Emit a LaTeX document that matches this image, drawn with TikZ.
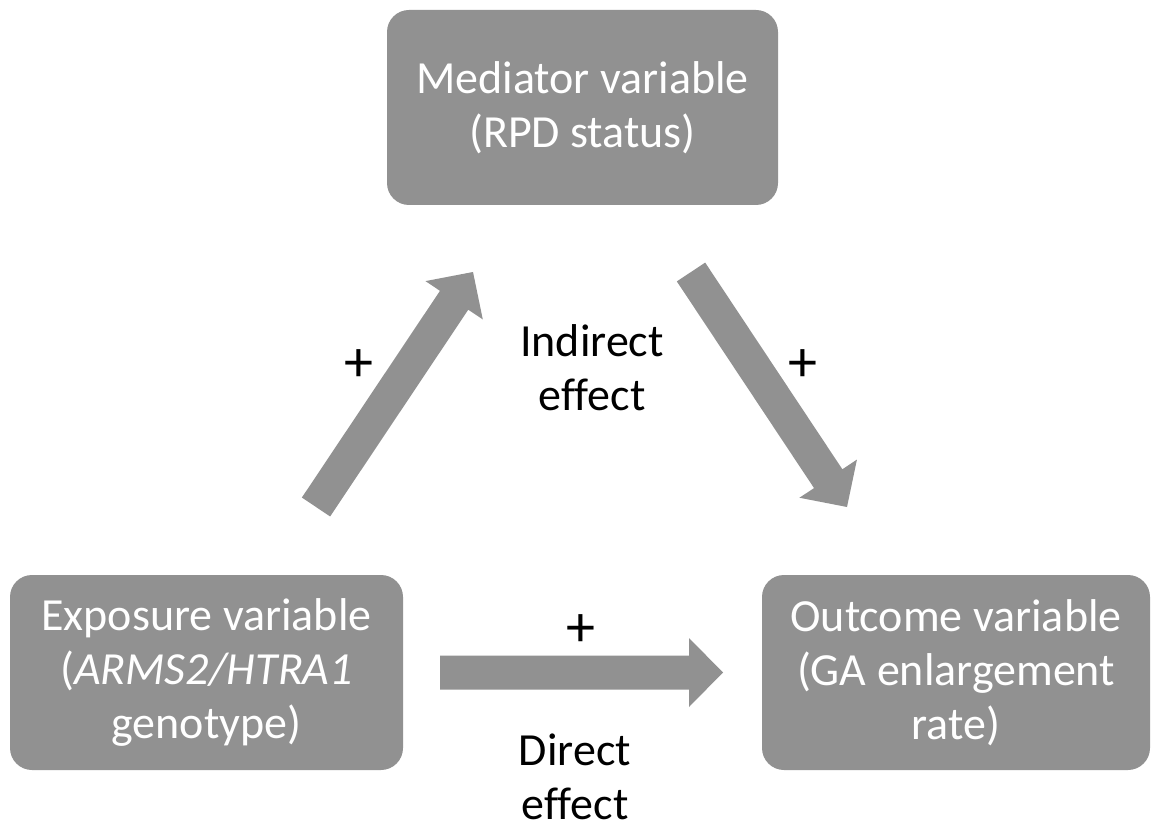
\documentclass[tikz,border=0pt]{standalone}
\usepackage{fontspec}
\setmainfont{Carlito}[Ligatures=CommonOff]
\usetikzlibrary{calc}
\definecolor{boxgray}{RGB}{145,145,145}
\definecolor{arrowgray}{RGB}{145,145,145}
\tikzset{
  varbox/.style={fill=boxgray, rounded corners=22pt, text=white, align=center,
    font=\fontsize{46}{54}\selectfont, inner sep=0pt},
  lbl/.style={text=black, align=center, font=\fontsize{46}{54}\selectfont, inner sep=0pt},
  plus/.style={text=black, font=\fontsize{58}{60}\selectfont, inner sep=0pt}
}
\newcommand{\blockarrow}[2]{%
  \coordinate (tmpC) at ($(#2)!34pt!(#1)$);
  \fill[arrowgray] ($(#1)!17pt!90:(#2)$) -- ($(tmpC)!17pt!-90:(#1)$) -- ($(tmpC)!34.5pt!-90:(#1)$)
    -- (#2) -- ($(tmpC)!34.5pt!90:(#1)$) -- ($(tmpC)!17pt!90:(#1)$) -- ($(#1)!17pt!-90:(#2)$) -- cycle;
}
\begin{document}
\begin{tikzpicture}[x=1pt,y=-1pt]
\useasboundingbox (0,0) rectangle (1152,829);
% boxes
\node[varbox, minimum width=391pt, minimum height=195pt] (med) at (582.5,107.5) {Mediator variable\\(RPD status)};
\node[varbox, minimum width=393pt, minimum height=195pt] (exp) at (206.5,672.5) {Exposure variable\\(\textit{ARMS2/HTRA1}\\genotype)};
\node[varbox, minimum width=388pt, minimum height=195pt] (out) at (956,672.5) {Outcome variable\\(GA enlargement\\rate)};
% arrow ends
\coordinate (a1s) at (316,507);
\coordinate (a1e) at (473,272);
\coordinate (a2s) at (691,272);
\coordinate (a2e) at (847,507);
\coordinate (a3s) at (440,672.5);
\coordinate (a3e) at (723,672.5);
\blockarrow{a1s}{a1e}
\blockarrow{a2s}{a2e}
\blockarrow{a3s}{a3e}
% labels
\node[plus] (p1) at (359,366) {+};
\node[plus] (p2) at (803,366) {+};
\node[plus] (p3) at (581,631) {+};
\node[lbl] (ind) at (592,368) {Indirect\\effect};
\node[lbl] (dir) at (575,777) {Direct\\effect};
\end{tikzpicture}
\end{document}
